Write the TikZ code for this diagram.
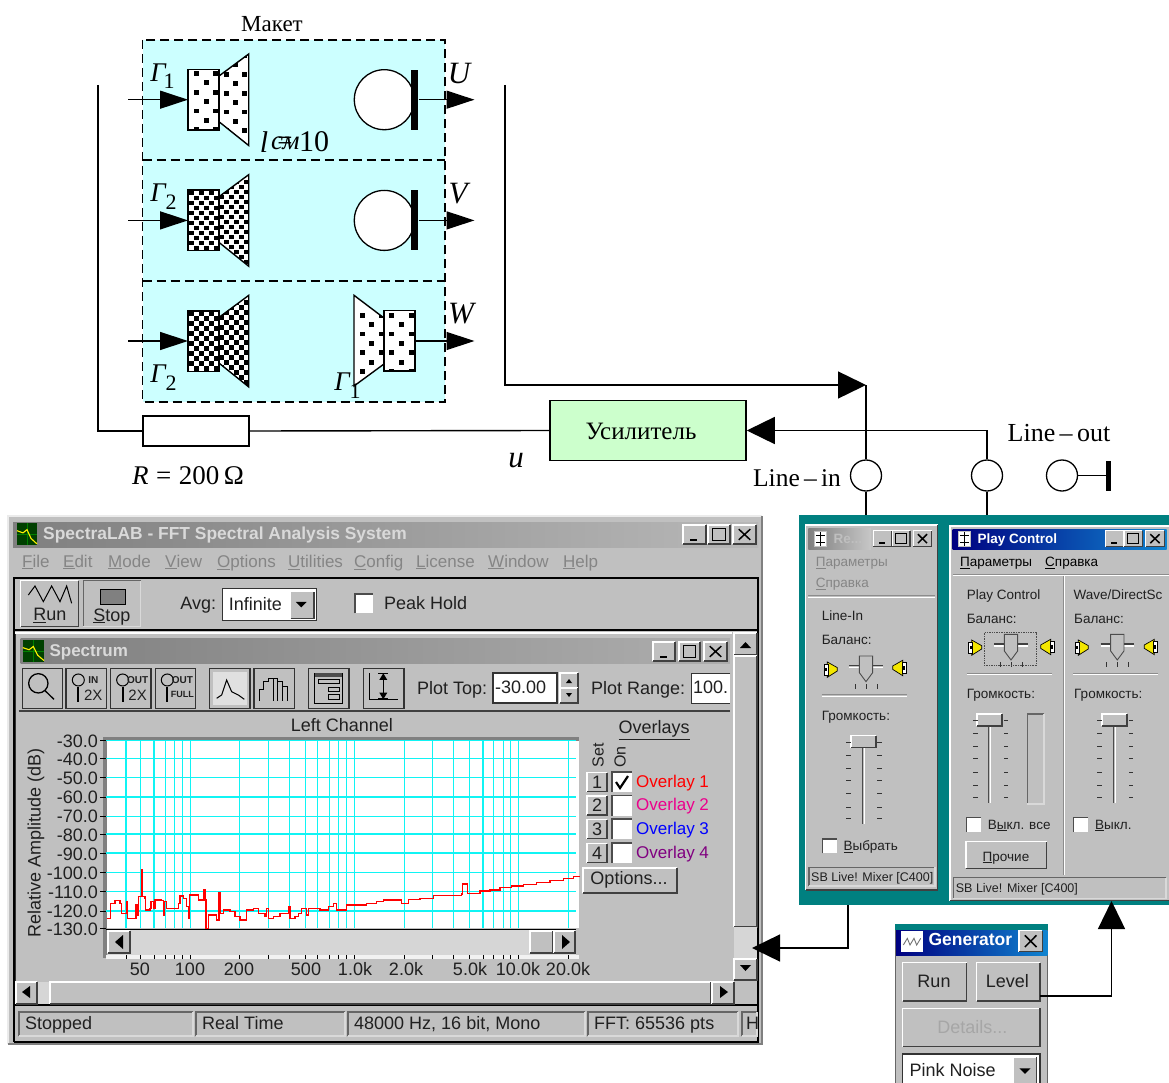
\documentclass[tikz,border=0pt]{standalone}
\usepackage{fontspec}
\usetikzlibrary{arrows.meta,shapes.geometric}
\setmainfont{Liberation Serif}
\newfontfamily\uifont{Liberation Sans}
\definecolor{uigray}{HTML}{C0C0C0}
\definecolor{uitxt}{HTML}{202020}
\definecolor{dimtxt}{HTML}{858585}
\definecolor{cyanbox}{HTML}{CCFFFF}
\definecolor{ampgreen}{HTML}{CCFFCC}
\definecolor{tealbg}{HTML}{008080}
\definecolor{navy}{HTML}{000080}
\definecolor{bluebar}{HTML}{1084D0}
\definecolor{gridc}{HTML}{10F4F4}
\definecolor{purp}{HTML}{800080}
\newcounter{labc}
\tikzset{
  wire/.style={line width=1.4pt,black},
  bigtip/.style={-{Triangle[length=28pt,width=27pt]}},
  smalltip/.style={-{Triangle[length=28pt,width=18pt]}},
  spkline/.style={line width=1.4pt,black},
  uilabel/.style={inner sep=0pt,anchor=mid west,yshift=-3pt,text=uitxt,font=\uifont\fontsize{18}{18}\selectfont},
  uic/.style={inner sep=0pt,anchor=center,text=uitxt,font=\uifont\fontsize{18}{18}\selectfont},
  mixlabel/.style={uilabel,yshift=1pt,font=\uifont\fontsize{13.5}{14}\selectfont},
  mixsmall/.style={mixlabel,font=\uifont\fontsize{12.5}{14}\selectfont},
  serlabel/.style={inner sep=0pt,anchor=center,text=black},
}
% text label with automatic name: [style]{x}{y}{text}
\newcommand\uit[4][uilabel]{\stepcounter{labc}\node[#1] (lab\arabic{labc}) at (#2,#3) {#4};}
% raised / sunken bevels
\newcommand\bevup[4]{\fill[uigray] (#1,#2) rectangle (#3,#4);
  \draw[white,line width=1.2pt] (#1,#4)--(#1,#2)--(#3,#2);
  \draw[black!75,line width=1.3pt] (#1,#4)--(#3,#4)--(#3,#2);}
\newcommand\bevdn[4]{\fill[uigray] (#1,#2) rectangle (#3,#4);
  \draw[black!60,line width=1.2pt] (#1,#4)--(#1,#2)--(#3,#2);
  \draw[white!85!black,line width=1.2pt] (#1,#4)--(#3,#4)--(#3,#2);}
\newcommand\fieldbox[4]{\fill[white] (#1,#2) rectangle (#3,#4);
  \draw[black!80,line width=1.1pt] (#1,#2) rectangle (#3,#4);}
\newcommand\ckbox[4]{\fill[white] (#1,#2) rectangle (#3,#4);
  \draw[black!70,line width=1.1pt] (#1,#4)--(#1,#2)--(#3,#2);}
% window buttons
\newcommand\btnmin[4]{\bevup{#1}{#2}{#3}{#4}\fill[black] ({#1+0.3*(#3-#1)},{#4-0.28*(#4-#2)}) rectangle ({#1+0.62*(#3-#1)},{#4-0.16*(#4-#2)});}
\newcommand\btnmax[4]{\bevup{#1}{#2}{#3}{#4}\draw[black,line width=1pt] ({#1+0.2*(#3-#1)},{#2+0.2*(#4-#2)}) rectangle ({#3-0.2*(#3-#1)},{#4-0.2*(#4-#2)});}
\newcommand\btnx[4]{\bevup{#1}{#2}{#3}{#4}\draw[black,line width=1.5pt] ({#1+0.25*(#3-#1)},{#2+0.22*(#4-#2)})--({#3-0.25*(#3-#1)},{#4-0.22*(#4-#2)}) ({#1+0.25*(#3-#1)},{#4-0.22*(#4-#2)})--({#3-0.25*(#3-#1)},{#2+0.22*(#4-#2)});}
% dot patterns
\newcommand\dotgrid[6]{\foreach \i in {0,...,#3}{\foreach \j in {0,...,#4}{%
  \pgfmathtruncatemacro\pp{mod(\i+\j,2)}\ifnum\pp=0
  \fill[black] ({#1+\i*#5},{#2+\j*#6}) rectangle +(4.8,4.8);\fi}}}
\newcommand\spkleft[4]{%
 \begin{scope}[shift={(0,#1)}]
  \fill[white] (188,69.5) rectangle (219,130);
  \fill[white] (219,76)--(248.7,54)--(248.7,145.5)--(219,121.7)--cycle;
  \begin{scope}\clip (188,69.5) rectangle (219,130);
   \ifnum#4=1 \dotgrid{189}{70}{6}{12}{5}{5}\else\dotgrid{194.4}{71}{3}{6}{9.3}{9.4}\fi
  \end{scope}
  \begin{scope}\clip (219,76)--(248.7,54)--(248.7,145.5)--(219,121.7)--cycle;
   \ifnum#4=1 \dotgrid{219}{54}{6}{19}{5}{5}\else\dotgrid{223.7}{53.2}{3}{10}{9.3}{9.4}\fi
  \end{scope}
  \draw[spkline] (188,69.5) rectangle (219,130);
  \draw[spkline] (219,76)--(248.7,54)--(248.7,145.5)--(219,121.7);
 \end{scope}}
% balance slider at centre x y
\newcommand\balslider[2]{\begin{scope}[shift={(#1,#2)}]
  \draw[black!75,line width=1.2pt] (-50,-3)--(50,-3); \draw[white,line width=1.2pt] (-50,3)--(50,3);
  \filldraw[fill=uigray,draw=black!70,line width=.9pt] (-20,-32)--(20,-32)--(20,18)--(0,45)--(-20,18)--cycle;
  \foreach \tx in {-33,0,33}{\fill[black!80] (\tx,52) rectangle +(3,14);}
 \end{scope}}
\newcommand\spkicon[3]{\begin{scope}[shift={(#1,#2)},xscale=#3]
  \filldraw[fill=yellow!90!olive,draw=black,line width=.7pt] (-10,-22)--(20,-5)--(20,5)--(-10,24)--cycle;
  \filldraw[fill=white,draw=black,line width=.9pt] (-20,-16)--(-8,-16)--(-8,18)--(-20,18)--cycle;
  \fill[black] (-16,-4) rectangle (-10,6);
 \end{scope}}
% vertical slider: x track, top, bottom, thumb top, tick left, tick right
\newcommand\vslider[6]{\draw[black!70,line width=1.4pt] (#1-3,#2)--(#1-3,#3); \draw[white,line width=.9pt] (#1+3,#2)--(#1+3,#3);
  \bevup{#1-37}{#4}{#1+38}{#4+36}
  \foreach \ty in {18,58,96,133,173,213,248}{\fill[black!80] (#5-6,#4+\ty) rectangle +(14,3);\fill[black!80] (#6-6,#4+\ty) rectangle +(14,3);}}
\newcommand\scopeicon[4]{\fill[green!25!black] (#1,#2) rectangle (#3,#4);
  \draw[green!50!black,line width=.3pt] (#1,{(#2+#4)/2})--(#3,{(#2+#4)/2}) ({(#1+#3)/2},#2)--({(#1+#3)/2},#4);
  \draw[yellow,line width=1.1pt] (#1,{#2+.35*(#4-#2)})--({#1+.3*(#3-#1)},{#2+.45*(#4-#2)})--({#1+.5*(#3-#1)},{#2+.3*(#4-#2)})--({#1+.7*(#3-#1)},{#2+.7*(#4-#2)})--(#3,{#2+.95*(#4-#2)});}
\newcommand\mixicon[4]{\fill[uigray] (#1,#2) rectangle (#3,#4);\fill[white] ({#1+3},{#2+3}) rectangle ({#3-3},{#4-3});
  \draw[black,line width=1pt] ({(#1+#3)/2},{#2+5})--({(#1+#3)/2},{#4-5}) ({#1+6},{#2+14})--({#3-6},{#2+14}) ({#1+6},{#4-16})--({#3-6},{#4-16});}
\begin{document}
\begin{tikzpicture}[x=1pt,y=-1pt]
\useasboundingbox (0,0) rectangle (1169,1083);
\clip (0,0) rectangle (1169,1083);
\fill[white] (0,0) rectangle (1169,1083);
%% ---------- Model box
\fill[cyanbox] (142.7,40) rectangle (445,402);
\draw[black,line width=1.3pt,dash pattern=on 9pt off 5pt] (142.7,40) rectangle (445,402) (142.7,160)--(445,160) (142.7,281)--(445,281);
\uit[serlabel]{272}{24}{\fontsize{23}{23}\selectfont Макет}
\spkleft{0}{9}{9}{0}
\spkleft{120.7}{5}{5}{1}
\spkleft{241.4}{5}{5}{1}
% right speaker row 3
\fill[white] (384,310.7) rectangle (415,371);
\fill[white] (354,295.3)--(384,318)--(384,364)--(354,386)--cycle;
\begin{scope}\clip (384,310.7) rectangle (415,371);\dotgrid{389.4}{312.7}{3}{6}{9.8}{9.4}\end{scope}
\begin{scope}\clip (354,295.3)--(384,318)--(384,364)--(354,386)--cycle;\dotgrid{360}{294}{3}{10}{9.3}{9.4}\end{scope}
\draw[spkline] (384,310.7) rectangle (415,371);
\draw[spkline] (384,318)--(354,295.3)--(354,386)--(384,364);
\coordinate (spkR) at (415,341);
% microphones
\node[circle,draw,line width=1.3pt,fill=white,minimum size=60pt,inner sep=0] (mic1) at (384.3,99.7) {};
\node[draw=none,fill=black,minimum width=7.6pt,minimum height=60pt,inner sep=0] (bar1) at (414.5,99.7) {};
\node[circle,draw,line width=1.3pt,fill=white,minimum size=60pt,inner sep=0] (mic2) at (384.3,220.4) {};
\node[draw=none,fill=black,minimum width=7.6pt,minimum height=60pt,inner sep=0] (bar2) at (414.5,220.4) {};
% row arrows
\coordinate (in1) at (128,99.7);\coordinate (sp1) at (188,99.7);
\coordinate (in2) at (128,220.4);\coordinate (sp2) at (188,220.4);
\coordinate (in3) at (128,341);\coordinate (sp3) at (188,341);
\coordinate (ou1) at (474.5,99.7);\coordinate (ou2) at (474.5,220.4);\coordinate (ou3) at (474.5,341);
\draw[wire,smalltip] (in1)--(sp1);
\draw[wire,smalltip] (in2)--(sp2);
\draw[wire,smalltip] (in3)--(sp3);
\draw[wire,smalltip] (bar1.east)--(ou1);
\draw[wire,smalltip] (bar2.east)--(ou2);
\draw[wire,smalltip] (spkR)--(ou3);
% math labels
\newcommand\ggam[1]{\fontsize{27}{27}\selectfont\itshape #1}
\uit[serlabel]{158}{73}{\ggam{Γ}}\uit[serlabel]{169}{81}{\fontsize{22}{22}\selectfont 1}
\uit[serlabel]{158}{193}{\ggam{Γ}}\uit[serlabel]{171}{202}{\fontsize{22}{22}\selectfont 2}
\uit[serlabel]{158}{374}{\ggam{Γ}}\uit[serlabel]{171}{383}{\fontsize{22}{22}\selectfont 2}
\uit[serlabel]{342}{382}{\ggam{Γ}}\uit[serlabel]{355}{391}{\fontsize{22}{22}\selectfont 1}
\uit[serlabel]{459}{74}{\fontsize{31}{31}\selectfont\itshape U}
\uit[serlabel]{458}{194}{\fontsize{31}{31}\selectfont\itshape V}
\uit[serlabel]{461}{314}{\fontsize{31}{31}\selectfont\itshape W}
\uit[serlabel]{264}{142}{\fontsize{30}{30}\selectfont\itshape l}
\uit[serlabel]{277}{143}{\fontsize{27}{27}\selectfont\itshape с}
\uit[serlabel]{285}{143}{\fontsize{27}{27}\selectfont =}
\uit[serlabel]{291}{143}{\fontsize{27}{27}\selectfont\itshape м}
\uit[serlabel]{314}{142}{\fontsize{30}{30}\selectfont 10}
\uit[serlabel]{188}{476}{\fontsize{27}{27}\selectfont\textit{R}\;=\;200\,Ω}
\uit[serlabel]{516}{461}{\fontsize{31}{31}\selectfont\itshape u}
%% ---------- circuit
\coordinate (lt) at (98,85);\coordinate (rt) at (505,85);\coordinate (jn) at (866,385);
\node[draw,line width=1.3pt,fill=white,minimum width=106pt,minimum height=30pt,inner sep=0] (res) at (196,431) {};
\node[draw,line width=1.5pt,fill=ampgreen,minimum width=196pt,minimum height=60pt,inner sep=0] (amp) at (648,430.5) {};
\uit[serlabel]{641}{431}{\fontsize{25}{25}\selectfont Усилитель}
\node[circle,draw,line width=1.3pt,fill=white,minimum size=31pt,inner sep=0] (li) at (866,475.5) {};
\node[circle,draw,line width=1.3pt,fill=white,minimum size=31pt,inner sep=0] (lo) at (987,475.5) {};
\node[circle,draw,line width=1.3pt,fill=white,minimum size=31pt,inner sep=0] (lx) at (1062,475.5) {};
\node[fill=black,minimum width=5pt,minimum height=30pt,inner sep=0] (lxbar) at (1108.5,475.5) {};
\draw[wire] (lx.east)--(lxbar.west);
\draw[wire] (lt)|-(res.west);
\draw[wire] (res.east)--(amp.west);
\draw[wire,bigtip] (rt)|-(jn);
\draw[wire] (jn)--(li.north);
\draw[wire,bigtip] (lo.north)|-(amp.east);
\coordinate (liB) at (866,516);\coordinate (loB) at (987,516);
\draw[wire] (li.south)--(liB);
\draw[wire] (lo.south)--(loB);
\uit[serlabel]{797}{478}{\fontsize{25.5}{25}\selectfont Line\,–\,in}
\uit[serlabel]{1059}{433}{\fontsize{26}{25}\selectfont Line\,–\,out}
%% ---------- SpectraLAB window
\fill[uigray] (8,516) rectangle (762,1044);
\draw[white!92!black,line width=1.5pt] (8,1044)--(8,516)--(762,516);
\draw[black!50,line width=1.5pt] (8,1044)--(762,1044)--(762,516);
\shade[left color=black!50,right color=black!28] (13,522) rectangle (758,547);
\scopeicon{17}{523}{37}{545}
\uit{43}{534}{\textcolor{black!15}{\fontsize{17.4}{19}\selectfont\bfseries SpectraLAB - FFT Spectral Analysis System}}
\btnmin{683}{525}{706}{544}\btnmax{708}{525}{730}{544}\btnx{733}{525}{756}{544}
\foreach \mx/\mf/\mr in {22/F/ile,63/E/dit,108/M/ode,165/V/iew,217/O/ptions,288/U/tilities,354/C/onfig,416/L/icense,488/W/indow,563/H/elp}{
  \stepcounter{labc}\node[uilabel,text=dimtxt,font=\uifont\fontsize{17}{18}\selectfont] (lab\arabic{labc}) at (\mx,562) {\underline{\mf}\mr};}
\draw[black,line width=1.3pt] (14,1042)--(14,578)--(758,578)--(758,1042)--(14,1042);
\draw[black,line width=2pt] (14,630)--(758,630);
\draw[black,line width=2pt] (14,1005)--(758,1005);
% top toolbar
\begin{scope}[shift={(0,510)},x=.3333pt,y=-.3333pt]
 \bevup{62}{212}{235}{350}
 \bevdn{250}{212}{422}{350}
 \draw[black,line width=1pt] (85,255)--(105,228)--(130,275)--(155,228)--(180,275)--(200,228)--(215,280);
 \filldraw[fill=black!50,draw=black,line width=1pt] (302,238) rectangle (378,285);
 \uit[uic]{150}{316}{\underline{R}un}
 \uit[uic]{336}{320}{\underline{S}top}
 \uit[uic]{595}{286}{Avg:}
 \fieldbox{668}{235}{950}{332}
 \uit{686}{285}{Infinite}
 \bevup{872}{245}{942}{325}\fill[black] (888,276)--(920,276)--(904,292)--cycle;
 \ckbox{1065}{252}{1120}{310}
 \uit{1152}{282}{Peak Hold}
 % spectrum title
 \shade[left color=black!50,right color=black!32] (62,385) rectangle (2190,460);
 \scopeicon{68}{390}{132}{455}
 \uit{148}{425}{\textcolor{black!15}{\fontsize{17}{18}\selectfont\bfseries Spectrum}}
 % spectrum toolbar
 \foreach \bx/\bw in {67/187,198/320,332/453,466/587,925/1047,1090/1212}{\bevup{\bx}{475}{\bw}{595}\draw[black!80,line width=1.2pt] (\bx,475) rectangle (\bw,595);}
 \foreach \bx/\bw in {628/750,762/883}{\bevup{\bx}{475}{\bw}{595}\draw[black!80,line width=1.2pt] (\bx,475) rectangle (\bw,595);}
 \fill[white!88!black] (640,485) rectangle (740,585);
 \draw[black,line width=1.3pt] (115,520) circle[radius=29] (135,542)--(162,568);
 \foreach \cx in {235,368,502}{\draw[black,line width=1pt] (\cx,510) circle[radius=18];\draw[black,line width=2.2pt] (\cx,530)--(\cx,575);}
 \uit[uic]{280}{510}{\fontsize{10}{10}\selectfont\bfseries IN}
 \uit[uic]{280}{555}{\fontsize{15}{15}\selectfont 2X}
 \uit[uic]{413}{510}{\fontsize{10}{10}\selectfont\bfseries OUT}
 \uit[uic]{413}{555}{\fontsize{15}{15}\selectfont 2X}
 \uit[uic]{547}{510}{\fontsize{10}{10}\selectfont\bfseries OUT}
 \uit[uic]{547}{552}{\fontsize{9}{9}\selectfont\bfseries FULL}
 \draw[black,line width=1pt] (650,565)--(665,555)--(680,510)--(695,545)--(715,555)--(733,568);
 \draw[black,line width=1pt] (778,572)--(778,540)--(792,540)--(792,515)--(806,515)--(806,505)--(820,505)--(820,572) (820,505)--(834,505)--(834,572) (834,515)--(848,515)--(848,572) (848,530)--(862,530)--(862,572);
 \draw[black,line width=1pt] (945,490) rectangle (1027,580);
 \fill[black!70] (945,490) rectangle (1027,500);
 \draw[black,line width=1pt] (955,510) rectangle (1020,522) (985,532) rectangle (1020,545) (985,555) rectangle (1020,568);
 \draw[black,line width=1pt] (1110,490)--(1110,570)--(1195,570) (1150,495)--(1150,562);
 \fill[black] (1150,490)--(1138,510)--(1162,510)--cycle (1150,568)--(1138,548)--(1162,548)--cycle;
 \draw[black,line width=1pt] (1135,492)--(1165,492) (1135,566)--(1165,566);
 \draw[black!75,line width=1.2pt] (56,603)--(2190,603);
 \uit[uic]{1026}{645}{Left Channel}
\end{scope}
\draw[black!80,line width=1pt] (15,632)--(15,1004);
\btnmin{653}{642}{675}{661}\btnmax{679}{642}{700}{661}\btnx{704}{642}{727}{661}
\draw[white,line width=1.2pt] (15,633)--(732,633);
\uit{417}{689}{Plot Top:}
\fieldbox{493}{673}{557}{703}\uit{495}{688}{-30.00}
\bevup{560}{673}{578}{688}\bevup{560}{688}{578}{703}
\fill[black] (566,683)--(572,683)--(569,679)--cycle (566,693)--(572,693)--(569,697)--cycle;
\uit{591}{689}{Plot Range:}
\fill[white] (691,673) rectangle (730,703);\draw[black!80,line width=1pt] (730,673)--(691,673)--(691,703)--(730,703);
\uit{693}{688}{100.}
\uit[uic]{654}{730}{\underline{Overlays}}
%% plot
\fill[white] (106,740) rectangle (579,928);
\fill[black!50] (103,737) rectangle (579,740.5);\fill[black!50] (103,737) rectangle (106.5,958);
\fill[white!95!black] (106,955) rectangle (579,959);
\begin{scope}
 \draw[gridc,line width=1.5pt] \foreach \gy in {740.7,758.3,777.7,797,816.3,834,853,872.3,891.7,911}{(106,\gy)--(576,\gy)};
 \draw[gridc,line width=1.5pt] \foreach \gx in {126,140.7,154,165.7,174.3,182.3,190.3,239.3,268.7,289.7,305.7,317.7,329.3,338.3,346.7,354.3,404.3,432.3,453.3,469.3,483,493.3,503.3,510.7,518.3,568.3}{(\gx,740)--(\gx,928)};
\end{scope}
\begin{scope}[shift={(0,730)},x=.3333pt,y=-.3333pt]
 \clip (318,20) rectangle (1740,595);
 \draw[red,line width=1.5pt,line join=miter] (320,565)-|(332,520)-|(345,512)-|(360,520)-|(365,550)-|(375,550)-|(380,516)-|(382,565)-|(405,565)-|(408,525)-|(412,555)-|(415,500)-|(424,500)-|(424,420)-|(428,420)-|(428,500)-|(435,505)-|(437,540)-|(450,535)-|(453,515)-|(460,535)-|(465,510)-|(485,512)-|(490,555)-|(492,515)-|(500,535)-|(525,535)-|(535,520)-|(540,498)-|(550,505)-|(560,530)-|(565,565)-|(568,495)-|(590,495)-|(595,510)-|(608,510)-|(610,480)-|(615,510)-|(618,595)-|(625,595)-|(625,555)-|(640,555)-|(650,570)-|(657,570)-|(657,488)-|(661,488)-|(661,550)-|(670,540)-|(690,545)-|(705,560)-|(720,570)-|(740,540)-|(760,535)-|(775,550)-|(795,560)-|(800,535)-|(805,565)-|(820,560)-|(840,550)-|(865,530)-|(870,565)-|(885,560)-|(895,550)-|(905,535)-|(920,555)-|(925,535)-|(960,540)-|(985,530)-|(1000,520)-|(1010,540)-|(1040,525)-|(1080,525)-|(1100,520)-|(1130,515)-|(1150,510)-|(1170,510)-|(1205,520)-|(1225,508)-|(1260,505)-|(1300,497)-|(1340,497)-|(1385,492)-|(1388,462)-|(1398,462)-|(1402,490)-|(1440,483)-|(1470,480)-|(1500,472)-|(1535,468)-|(1570,463)-|(1610,458)-|(1650,452)-|(1690,445)-|(1720,440)-|(1745,430);
\end{scope}
%% y-axis labels
\foreach \vy/\vt in {742/-30.0,760/-40.0,779/-50.0,798/-60.0,817/-70.0,836/-80.0,855/-90.0,874/-100.0,893/-110.0,912/-120.0,930/-130.0}{
 \stepcounter{labc}\node[uilabel,anchor=mid east] (lab\arabic{labc}) at (98,\vy) {\vt};}
\foreach \vy in {740.7,758.3,777.7,797,816.3,834,853,872.3,891.7,911,928}{\draw[black,line width=1pt] (100,\vy)--(106,\vy);}
\stepcounter{labc}\node[uic,rotate=90] (lab\arabic{labc}) at (36,843) {Relative Amplitude (dB)};
%% horizontal plot scrollbar
\fill[black!16] (108,929) rectangle (576,955);
\draw[black,line width=1pt] (106,929)--(576,929);
\bevup{108}{931}{130}{953}\fill[black] (123,935)--(123,949)--(115,942)--cycle;
\bevup{530}{931}{553}{953}
\bevup{554}{931}{575}{953}\fill[black] (562,935)--(562,949)--(570,942)--cycle;
\foreach \gx in {126,140.7,154,165.7,174.3,182.3,190.3,239.3,268.7,289.7,305.7,317.7,329.3,338.3,346.7,354.3,404.3,432.3,453.3,469.3,483,493.3,503.3,510.7,518.3,568.3}{\draw[black,line width=.8pt] (\gx,955)--(\gx,958.5);}
\foreach \lx/\lt in {140/50,190/100,239/200,306/500,355/1.0k,406/2.0k,470/5.0k,518/10.0k,568/20.0k}{
 \stepcounter{labc}\node[uic] (lab\arabic{labc}) at (\lx,969) {\lt};}
%% overlays
\stepcounter{labc}\node[uic,rotate=90,font=\uifont\fontsize{16}{16}\selectfont] (lab\arabic{labc}) at (598,755) {Set};
\stepcounter{labc}\node[uic,rotate=90,font=\uifont\fontsize{16}{16}\selectfont] (lab\arabic{labc}) at (620,757) {On};
\foreach \oy/\on/\oc in {782/1/red,805.5/2/magenta,829/3/blue,853/4/purp}{
 \bevup{587}{\oy-9.5}{607}{\oy+9.5}
 \stepcounter{labc}\node[uic] (lab\arabic{labc}) at (597,\oy) {\on};
 \ckbox{612}{\oy-10}{632}{\oy+10}
 \stepcounter{labc}\node[uilabel,text=\oc,font=\uifont\fontsize{17}{18}\selectfont] (lab\arabic{labc}) at (636,\oy) {Overlay \on};}
\draw[black,line width=2.2pt] (616,782)--(620,788)--(628,776);
\bevup{583}{868}{677}{893}
\uit[uic]{629}{880}{Options...}
%% right vertical scrollbar
\bevup{734}{633}{757}{655}\fill[black] (740,648)--(751,648)--(745.5,642)--cycle;
\bevup{734}{656}{757}{927}
\fill[black!16] (734,927) rectangle (757,959);
\bevup{734}{959}{757}{980}\fill[black] (740,965)--(751,965)--(745.5,971)--cycle;
%% bottom scrollbar
\bevup{16}{982}{37}{1004}\fill[black] (30,986)--(30,998)--(22,992)--cycle;
\fill[black!16] (38,982) rectangle (50,1004);
\bevup{50}{982}{711}{1004}
\bevup{712}{982}{734}{1004}\fill[black] (720,986)--(720,998)--(728,992)--cycle;
%% status panes
\foreach \sa/\sb in {19/193,196/345,348/585,588/738,742/757}{\bevdn{\sa}{1012}{\sb}{1036}}
\uit{25}{1024}{Stopped}
\uit{202}{1024}{Real Time}
\uit{354}{1024}{48000 Hz, 16 bit, Mono}
\uit{594}{1024}{FFT: 65536 pts}
\uit{746}{1024}{H}
%% ---------- Mixer panel
\fill[tealbg] (799,515) rectangle (1169,905);
\begin{scope}[shift={(795,510)},x=.3333pt,y=-.3333pt]
 % left window
 \bevup{32}{45}{428}{1140}
 \shade[left color=black!50,right color=black!22] (40,55) rectangle (228,118);
 \fill[uigray] (228,55) rectangle (420,118);
 \mixicon{58}{62}{95}{112}
 \uit[mixlabel,text=black!25]{115}{88}{\bfseries Re...}
 \btnmin{235}{62}{290}{110}\btnmax{292}{62}{345}{110}\btnx{355}{62}{410}{110}
 \uit[mixlabel,text=dimtxt]{62}{157}{\underline{П}араметры}
 \uit[mixlabel,text=dimtxt]{62}{220}{\underline{С}правка}
 \draw[black!45,line width=1pt] (40,258)--(420,258);\draw[white,line width=.8pt] (40,262)--(420,262);
 \uit[mixlabel]{80}{320}{Line-In}
 \uit[mixlabel]{80}{392}{Баланс:}
 \spkicon{107}{478}{1}\spkicon{313}{473}{-1}
 \balslider{213}{470}
 \draw[black!45,line width=.8pt] (80,554)--(337,554);\draw[white,line width=.8pt] (80,558)--(337,558);
 \uit[mixlabel]{80}{620}{Громкость:}
 \vslider{205}{690}{942}{677}{160}{253}
 \ckbox{82}{987}{125}{1030}
 \uit[mixlabel]{145}{1010}{\underline{В}ыбрать}
 \bevdn{42}{1072}{420}{1128}
 \uit[mixsmall]{48}{1102}{SB Live! Mixer [C400]}
 % right window
 \bevup{465}{48}{1130}{1172}
 \shade[left color=navy,right color=bluebar] (473,58) rectangle (1115,118);
 \mixicon{490}{62}{527}{112}
 \uit[mixlabel,text=white]{547}{87}{\bfseries Play Control}
 \btnmin{932}{62}{985}{110}\btnmax{987}{62}{1042}{110}\btnx{1052}{62}{1108}{110}
 \uit[mixlabel,text=black]{495}{157}{\underline{П}араметры}
 \uit[mixlabel,text=black]{750}{157}{\underline{С}правка}
 \draw[black!45,line width=.8pt] (473,192)--(1122,192);\draw[white,line width=.8pt] (473,196)--(1122,196);
 \draw[black!45,line width=.8pt] (804,198)--(804,1095);\draw[white,line width=.8pt] (808,198)--(808,1095);
 % column 1
 \uit[mixlabel]{515}{255}{Play Control}
 \uit[mixlabel]{515}{327}{Баланс:}
 \spkicon{540}{412}{1}\spkicon{757}{410}{-1}
 \balslider{648}{405}
 \draw[black!70,line width=.7pt,densely dotted] (568,368) rectangle (725,466);
 \draw[black!45,line width=.8pt] (515,489)--(770,489);\draw[white,line width=.8pt] (515,493)--(770,493);
 \uit[mixlabel]{515}{553}{Громкость:}
 \vslider{583}{625}{878}{612}{540}{632}
 \bevdn{697}{612}{747}{882}
 \ckbox{515}{922}{558}{965}
 \uit[mixlabel]{578}{945}{В\underline{ы}кл. все}
 \bevup{513}{995}{755}{1075}
 \uit[mixlabel,anchor=center,yshift=-1pt]{633}{1035}{\underline{П}рочие}
 % column 2
 \uit[mixlabel]{835}{255}{Wave/DirectSc}
 \uit[mixlabel]{837}{327}{Баланс:}
 \spkicon{860}{412}{1}\spkicon{1068}{410}{-1}
 \balslider{967}{405}
 \draw[black!45,line width=.8pt] (835,489)--(1090,489);\draw[white,line width=.8pt] (835,493)--(1090,493);
 \uit[mixlabel]{837}{553}{Громкость:}
 \vslider{958}{625}{878}{612}{913}{1007}
 \ckbox{835}{922}{878}{965}
 \uit[mixlabel]{900}{945}{\underline{В}ыкл.}
 \bevdn{475}{1103}{1113}{1165}
 \uit[mixsmall]{482}{1134}{SB Live! Mixer [C400]}
\end{scope}
%% ---------- Generator window
\begin{scope}[shift={(880,900)},x=.3333pt,y=-.3333pt]
 \fill[tealbg] (45,72) rectangle (505,100);
 \fill[uigray] (45,90) rectangle (505,560);
 \draw[black!60,line width=1pt] (47,90)--(47,560) (503,90)--(503,560);
 \shade[left color=navy,right color=bluebar] (48,90) rectangle (502,165);
 \fill[white] (62,92) rectangle (130,157);
 \draw[black!55,line width=.9pt] (70,135)--(82,115)--(90,135)--(102,115)--(110,135)--(122,115);
 \uit[uilabel,text=white]{145}{122}{\fontsize{17.5}{18}\selectfont\bfseries Generator}
 \btnx{417}{92}{487}{155}
 \bevup{68}{188}{260}{303}\bevup{290}{188}{480}{303}\bevup{68}{325}{480}{440}
 \uit[uic]{162}{245}{Run}
 \uit[uic]{382}{243}{Level}
 \uit[uic,text=black!35]{277}{382}{Details...}
 \fieldbox{68}{462}{480}{560}
 \uit{88}{515}{Pink Noise}
 \bevup{400}{472}{470}{560}\fill[black] (418,505)--(452,505)--(435,522)--cycle;
\end{scope}
%% ---------- Connectors onto windows
\coordinate (recB) at (848,905);\coordinate (specR) at (752,948);
\draw[wire,bigtip] (recB)|-(specR);
\coordinate (lvl) at (1040,996);\coordinate (playB) at (1111.5,901);
\draw[wire,bigtip] (lvl)-|(playB);
\end{tikzpicture}
\end{document}
